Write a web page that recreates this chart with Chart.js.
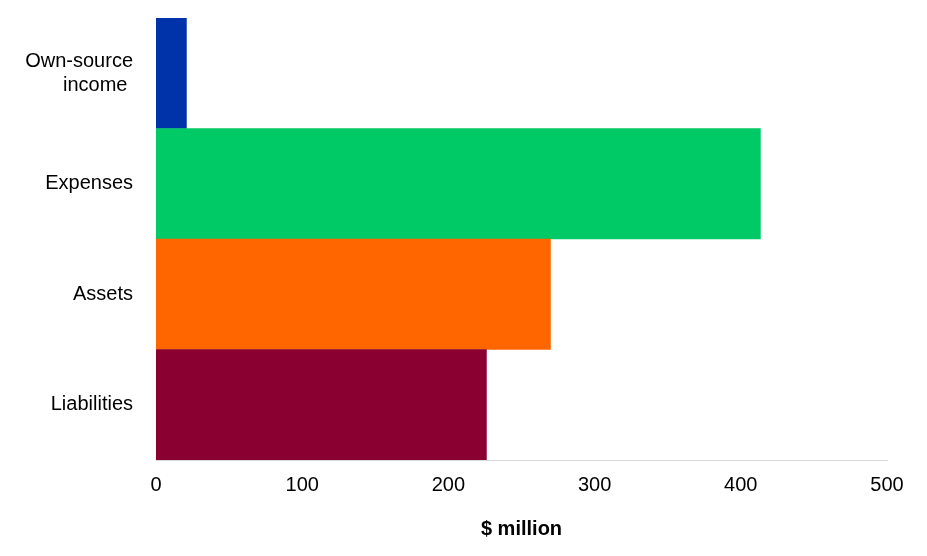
<!DOCTYPE html>
<html>
<head>
<meta charset="utf-8">
<script src="https://cdn.jsdelivr.net/npm/chart.js@4/dist/chart.umd.min.js"></script>
<style>
  body { margin: 0; background: #fff; }
</style>
</head>
<body>
<canvas id="myChart" width="927" height="556"></canvas>
<script>
const categories = [['Own-source', 'income '], 'Expenses', 'Assets', 'Liabilities'];
const values = [20.8, 413.4, 269.8, 226];
const barColours = ['#0033a9', '#00ca65', '#ff6600', '#8a0030'];
const xTicks = [0, 100, 200, 300, 400, 500];

const ctx = document.getElementById('myChart');

new Chart(ctx, {
    type: 'bar',
    data: {
        labels: categories,
        datasets: [{
            data: values,
            backgroundColor: barColours,
            borderWidth: 0,
            barPercentage: 1,
            categoryPercentage: 1
        }]
    },
    options: {
        indexAxis: 'y',
        responsive: false,
        animation: false,
        layout: { padding: { top: 18, right: 40, left: 0, bottom: 0 } },
        plugins: {
            legend: { display: false },
            tooltip: { enabled: false }
        },
        scales: {
            x: {
                min: 0,
                max: 500,
                afterBuildTicks: function (axis) {
                    axis.ticks = xTicks.map(v => ({ value: v }));
                },
                afterFit: function (axis) { axis.height = 96; },
                grid: { display: false, drawTicks: false },
                border: { display: true, color: '#d9d9d9', width: 1 },
                ticks: {
                    color: '#000',
                    padding: 13,
                    font: { family: 'Liberation Sans, Arial, sans-serif', size: 20 }
                },
                title: {
                    display: true,
                    text: '$ million',
                    color: '#000',
                    padding: { top: 0, bottom: 15 },
                    font: { family: 'Liberation Sans, Arial, sans-serif', size: 20, weight: 'bold' }
                }
            },
            y: {
                afterFit: function (axis) {
                    axis.width = 156;
                    axis.paddingTop = 0;
                    axis.paddingBottom = 0;
                },
                grid: { display: false, drawTicks: false },
                border: { display: false },
                ticks: {
                    color: '#000',
                    padding: 23,
                    font: { family: 'Liberation Sans, Arial, sans-serif', size: 20 }
                }
            }
        }
    }
});
</script>
</body>
</html>
